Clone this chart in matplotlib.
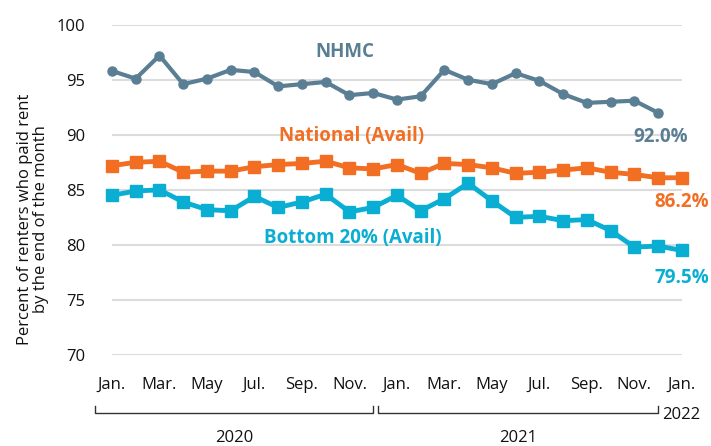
import matplotlib
matplotlib.use("Agg")
import matplotlib.pyplot as plt
import matplotlib.transforms as mtransforms
from matplotlib.lines import Line2D

plt.rcParams['font.family'] = ['Open Sans', 'DejaVu Sans']

# 数据：2020年1月 - 2022年1月，每月
month_ticks = ["Jan.", "Mar.", "May", "Jul.", "Sep.", "Nov.",
               "Jan.", "Mar.", "May", "Jul.", "Sep.", "Nov.", "Jan."]
nhmc = [95.8, 95.1, 97.2, 94.6, 95.1, 95.9, 95.7, 94.4, 94.6, 94.8, 93.6, 93.8,
        93.2, 93.5, 95.9, 95.0, 94.6, 95.6, 94.9, 93.7, 92.9, 93.0, 93.1, 92.0]
national = [87.2, 87.5, 87.6, 86.6, 86.7, 86.7, 87.1, 87.3, 87.4, 87.6, 87.0, 86.9,
            87.3, 86.5, 87.4, 87.3, 87.0, 86.5, 86.6, 86.8, 87.0, 86.6, 86.4, 86.1, 86.1]
bottom20 = [84.5, 84.9, 85.0, 83.9, 83.2, 83.1, 84.4, 83.4, 83.9, 84.6, 83.0, 83.4,
            84.5, 83.1, 84.2, 85.6, 84.0, 82.5, 82.6, 82.2, 82.3, 81.3, 79.8, 79.9, 79.5]
years = ["2020", "2021"]

c_nhmc = '#5a7e93'
c_nat = '#f26e22'
c_bot = '#0aaed3'
c_grid = '#dcdcdc'

fig = plt.figure(figsize=(7.11, 4.46), dpi=100)
ax = fig.add_axes([0.1575, 0.204, 0.8015, 0.7406])

for spine in ax.spines.values():
    spine.set_visible(False)

ax.set_xlim(0, 24)
ax.set_ylim(70, 100)
ax.set_yticks([70, 75, 80, 85, 90, 95, 100])
ax.yaxis.grid(True, color=c_grid, linewidth=1.5)
ax.set_axisbelow(True)
ax.set_xticks(range(0, 25, 2))
ax.set_xticklabels(month_ticks)
ax.tick_params(axis='both', length=0, labelsize=12, colors='#111111')
ax.tick_params(axis='x', pad=16)
ax.tick_params(axis='y', pad=19)

x_nhmc = list(range(len(nhmc)))
x_all = list(range(len(national)))

ax.plot(x_all, bottom20, color=c_bot, linewidth=3.5, marker='s', markersize=8.5,
        clip_on=False, zorder=3)
ax.plot(x_all, national, color=c_nat, linewidth=3.5, marker='s', markersize=8.5,
        clip_on=False, zorder=3)
ax.plot(x_nhmc, nhmc, color=c_nhmc, linewidth=3, marker='o', markersize=6.5,
        clip_on=False, zorder=3)

# 系列标签
ax.text(9.8, 97.55, "NHMC", color=c_nhmc, fontsize=13.5, fontweight='bold',
        ha='center', va='center')
ax.text(10.07, 89.9, "National (Avail)", color=c_nat, fontsize=13.5, fontweight='bold',
        ha='center', va='center')
ax.text(10.15, 80.6, "Bottom 20% (Avail)", color=c_bot, fontsize=13.5, fontweight='bold',
        ha='center', va='center')

# 末端数值
ax.text(23.1, 89.8, "92.0%", color=c_nhmc, fontsize=13.5, fontweight='bold',
        ha='center', va='center', clip_on=False)
ax.text(24.0, 83.9, "86.2%", color=c_nat, fontsize=13.5, fontweight='bold',
        ha='center', va='center', clip_on=False)
ax.text(24.0, 77.0, "79.5%", color=c_bot, fontsize=13.5, fontweight='bold',
        ha='center', va='center', clip_on=False)

# 年份括号
trans = mtransforms.blended_transform_factory(ax.transData, fig.transFigure)
H = 446.0
y_br = 1 - 413 / H
y_tk = 1 - 406 / H
for (x0, x1), yr in zip([(-0.7, 11.0), (11.2, 23.0)], years):
    ax.add_line(Line2D([x0, x0, x1, x1], [y_tk, y_br, y_br, y_tk], transform=trans,
                       color='#333333', linewidth=1, clip_on=False))
    ax.text((x0 + x1) / 2, 1 - 438 / H, yr, transform=trans, fontsize=12,
            ha='center', va='center', color='#111111')
ax.text(23.15, 1 - 415 / H, "2022", transform=trans, fontsize=12,
        ha='left', va='center', color='#111111')

fig.text(33 / 711, 1 - 219 / H, "Percent of renters who paid rent\nby the end of the month",
         rotation=90, ha='center', va='center', multialignment='center',
         fontsize=12, color='#111111', linespacing=1.0)

fig.savefig("out.png", dpi=100)
